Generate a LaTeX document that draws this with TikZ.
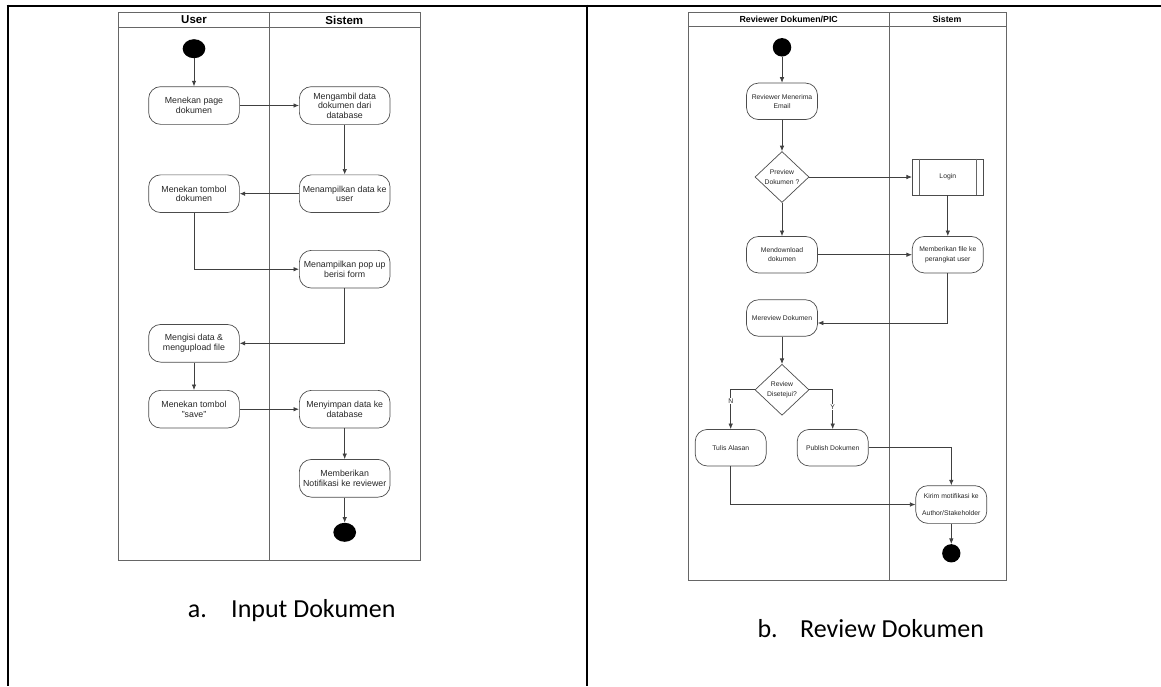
\documentclass[tikz,border=0pt]{standalone}
\usepackage{fontspec}
\setmainfont{Liberation Sans}
\newfontfamily\capfont{Carlito}
\usetikzlibrary{positioning, arrows, arrows.meta}
\usetikzlibrary{shapes,shapes.geometric}

\begin{document}
\begin{tikzpicture}[x=1pt,y=-1pt,>={Latex[length=5.5pt,width=4.5pt]},on grid,
    act/.style={draw=black!70, line width=0.7pt, rounded corners=12pt, align=center, text=black!85, inner xsep=1pt},
    acta/.style={act, minimum width=90.7pt, minimum height=37.7pt, font=\fontsize{8.8}{9.4}\selectfont},
    actb/.style={act, minimum width=71pt, minimum height=36.5pt, font=\fontsize{6.8}{9.3}\selectfont},
    dec/.style={diamond, draw=black!70, line width=0.7pt, align=center, inner sep=0pt, text=black!85,
        minimum width=54pt, minimum height=51pt, font=\fontsize{6.8}{9.3}\selectfont},
    subproc/.style={draw=black!70, line width=0.7pt, minimum width=71pt, minimum height=36pt,
        text=black!85, font=\fontsize{6.8}{9.3}\selectfont},
    dot/.style={ellipse, fill=black, inner sep=0pt},
    lane/.style={draw=black!60, line width=0.7pt},
    head/.style={font=\bfseries\fontsize{11.5}{12}\selectfont},
    headb/.style={font=\bfseries\fontsize{8.8}{10}\selectfont},
    flow/.style={draw=black!75, line width=0.7pt},
    every edge/.style={flow},
    caption/.style={anchor=west, font=\capfont\fontsize{26}{30}\selectfont},
    lbl/.style={fill=white, inner sep=0.5pt, font=\fontsize{6.8}{8}\selectfont, text=black!85}]

    \useasboundingbox (0,0) rectangle (1161,686);

    % table lines
    \draw[line width=2pt] (6.5,5.7) -- (1161,5.7);
    \draw[line width=2pt] (7.5,4.7) -- (7.5,686);
    \draw[line width=2pt] (587,4.7) -- (587,686);

    % a. input dokumen
    \draw[lane] (118.3,12.3) rectangle (420.7,560.7);
    \draw[lane] (118.3,27.3) -- (420.7,27.3);
    \draw[lane] (269.3,12.3) -- (269.3,560.7);
    \node[head] (h_a1) at (194,20) {User};
    \node[head] (h_a2) at (344.3,20) {Sistem};

    \node[dot, minimum width=22.7pt, minimum height=19pt] (st_a) at (194,48.7) {};
    \node[acta] (a_1) at (194,105.5) {Menekan page\\dokumen};
    \node[acta] (s_1) [right=150.7pt of a_1] {Mengambil data\\dokumen dari\\database};
    \node[acta] (s_2) [below=88.2pt of s_1] {Menampilkan data ke\\user};
    \node[acta] (a_2) [left=150.7pt of s_2] {Menekan tombol\\dokumen};
    \node[acta] (s_3) [below=75.5pt of s_2] {Menampilkan pop up\\berisi form};
    \node[acta] (a_3) [below=149.6pt of a_2] {Mengisi data \&\\mengupload file};
    \node[acta] (a_4) [below=65.9pt of a_3] {Menekan tombol\\"save"};
    \node[acta] (s_4) [right=150.7pt of a_4] {Menyimpan data ke\\database};
    \node[acta] (s_5) [below=69.1pt of s_4] {Memberikan\\Notifikasi ke reviewer};
    \node[dot, minimum width=22.7pt, minimum height=19pt] (en_a) [below=54pt of s_5] {};

    \path[->]
    (st_a) edge (a_1)
    (a_1) edge (s_1)
    (s_1) edge (s_2)
    (s_2) edge (a_2)
    (a_3) edge (a_4)
    (a_4) edge (s_4)
    (s_4) edge (s_5)
    (s_5) edge (en_a)
    ;
    \draw[->, flow] (a_2) |- (s_3);
    \draw[->, flow] (s_3) |- (a_3);

    \node[caption] (cap_a) at (184.3,610.7) {\makebox[43.4pt][l]{a.}Input Dokumen};

    % b. review dokumen
    \draw[lane] (688.3,12.3) rectangle (1006.7,580);
    \draw[lane] (688.3,26) -- (1006.7,26);
    \draw[lane] (889,12.3) -- (889,580);
    \node[headb] (h_b1) at (788.7,19.3) {Reviewer Dokumen/PIC};
    \node[headb] (h_b2) at (947,19.3) {Sistem};

    \node[dot, minimum size=18.5pt] (st_b) at (782,47.3) {};
    \node[actb] (r_1) at (782,101.3) {Reviewer Menerima\\Email};
    \node[dec] (d_1) [below=75.7pt of r_1] {Preview\\Dokumen ?};
    \node[subproc] (l_1) [right=165.8pt of d_1] {Login};
    \draw[lane] ([xshift=7pt]l_1.north west) -- ([xshift=7pt]l_1.south west);
    \draw[lane] ([xshift=-7pt]l_1.north east) -- ([xshift=-7pt]l_1.south east);
    \node[actb] (r_2) [below=77.7pt of d_1] {Mendownload\\dokumen};
    \node[actb] (m_1) [right=165.8pt of r_2] {Memberikan file ke\\perangkat user};
    \node[actb] (r_3) [below=63.3pt of r_2] {Mereview Dokumen};
    \node[dec] (d_2) [below=71.8pt of r_3] {Review\\Disetejui?};
    \node[actb] (t_1) at (730.7,447.7) {Tulis Alasan};
    \node[actb] (p_1) [right=102pt of t_1] {Publish Dokumen};
    \node[actb, minimum height=37.7pt] (k_1) at (951.3,504.5) {Kirim motifikasi ke\\[7.5pt]Author/Stakeholder};
    \node[dot, minimum size=18.3pt] (en_b) [below=48.8pt of k_1] {};

    \path[->]
    (st_b) edge (r_1)
    (r_1) edge (d_1)
    (d_1) edge (l_1)
    (d_1) edge (r_2)
    (l_1) edge (m_1)
    (r_2) edge (m_1)
    (r_3) edge (d_2)
    (k_1) edge (en_b)
    ;
    \draw[->, flow] (m_1) |- ([yshift=-5pt]r_3.east);
    \draw[->, flow] (d_2) -| node[lbl, pos=0.64] {N} (t_1);
    \draw[->, flow] (d_2) -| node[lbl, pos=0.72] {Y} (p_1);
    \draw[->, flow] (p_1) -| (k_1);
    \draw[->, flow] (t_1) |- (k_1);

    \node[caption] (cap_b) at (754,629) {\makebox[42.7pt][l]{b.}Review Dokumen};
\end{tikzpicture}
\end{document}
